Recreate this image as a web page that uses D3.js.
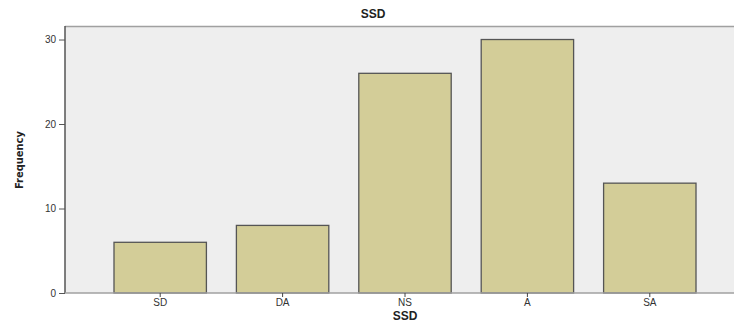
<!DOCTYPE html>
<html lang="en">
<head>
    <meta charset="UTF-8">
    <title>SSD</title>
    <script src="https://d3js.org/d3.v7.min.js"></script>
    <style>
        body { margin: 0; background: #fff; }
        text { font-family: "Liberation Sans", Arial, sans-serif; }
    </style>
</head>
<body>
    <div id="chart"></div>
    <script>
        // data
        var categories = ["SD", "DA", "NS", "A", "SA"];
        var frequencies = [6, 8, 26, 30, 13];
        var yTicks = [0, 10, 20, 30];

        var width = 734, height = 320;
        var plotLeft = 65, plotTop = 26, plotRight = 734, plotBottom = 293;

        var svg = d3.select("#chart").append("svg")
            .attr("width", width)
            .attr("height", height);

        var x = d3.scaleBand()
            .domain(categories)
            .range([99, 711])
            .paddingInner(0.245)
            .paddingOuter(0.1225);

        var y = d3.scaleLinear()
            .domain([0, 31.6])
            .range([plotBottom, plotTop]);

        // plot background
        svg.append("rect")
            .attr("x", plotLeft)
            .attr("y", plotTop)
            .attr("width", plotRight - plotLeft)
            .attr("height", plotBottom - plotTop)
            .style("fill", "#eeeeee");

        svg.append("line")
            .attr("x1", plotLeft).attr("x2", plotRight)
            .attr("y1", plotTop + 0.5).attr("y2", plotTop + 0.5)
            .style("stroke", "#a0a0a0")
            .style("stroke-width", 1.5);

        // bars
        svg.selectAll(".bar")
            .data(frequencies)
            .enter().append("rect")
            .attr("class", "bar")
            .attr("x", function(d, i) { return x(categories[i]); })
            .attr("y", function(d) { return y(d); })
            .attr("width", x.bandwidth())
            .attr("height", function(d) { return plotBottom - y(d); })
            .style("fill", "#d3cd98")
            .style("stroke", "#555")
            .style("stroke-width", 1.3);

        // y axis
        var yAxis = svg.append("g")
            .attr("transform", "translate(" + plotLeft + ",0)")
            .call(d3.axisLeft(y).tickValues(yTicks).tickSize(6).tickPadding(3));
        yAxis.select(".domain").attr("d", "M0," + plotTop + "V" + plotBottom)
            .style("stroke", "#555").style("stroke-width", 1.5);
        yAxis.selectAll(".tick line").style("stroke", "#555");
        yAxis.selectAll(".tick text")
            .style("font-size", "10px")
            .style("fill", "#333");

        // x axis
        var xAxis = svg.append("g")
            .attr("transform", "translate(0," + plotBottom + ")")
            .call(d3.axisBottom(x).tickSize(4).tickPadding(2));
        xAxis.select(".domain").attr("d", "M" + plotLeft + ",0H" + plotRight)
            .style("stroke", "#a0a0a0").style("stroke-width", 1.5);
        xAxis.selectAll(".tick line").style("stroke", "#444");
        xAxis.selectAll(".tick text")
            .style("font-size", "10px")
            .style("fill", "#333");

        // titles
        svg.append("text")
            .attr("x", 373)
            .attr("y", 18)
            .attr("text-anchor", "middle")
            .style("font-size", "12px")
            .style("font-weight", "bold")
            .style("fill", "#222")
            .text("SSD");

        svg.append("text")
            .attr("x", 405)
            .attr("y", 320)
            .attr("text-anchor", "middle")
            .style("font-size", "12px")
            .style("font-weight", "bold")
            .style("fill", "#222")
            .text("SSD");

        svg.append("text")
            .attr("transform", "translate(23,160) rotate(-90)")
            .attr("text-anchor", "middle")
            .style("font-family", "'Liberation Sans Narrow', 'DejaVu Sans Condensed', sans-serif")
            .style("font-size", "11px")
            .style("font-weight", "bold")
            .style("fill", "#222")
            .text("Frequency");
    </script>
</body>
</html>
